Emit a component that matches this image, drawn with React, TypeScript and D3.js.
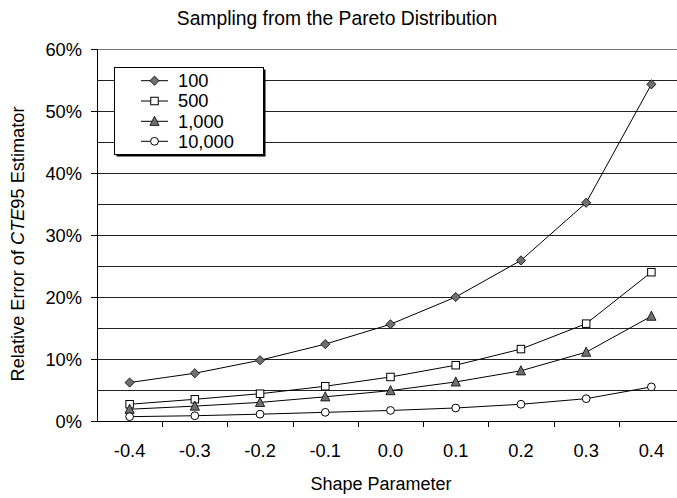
import React from "react";
import * as d3 from "d3";

// Shape parameter categories along the x axis
const categories = ["-0.4", "-0.3", "-0.2", "-0.1", "0.0", "0.1", "0.2", "0.3", "0.4"];

// Relative error (%) of the CTE95 estimator for each sample size
const n100 = [6.2, 7.7, 9.8, 12.4, 15.6, 20.0, 25.9, 35.2, 54.3];
const n500 = [2.7, 3.5, 4.4, 5.6, 7.1, 9.0, 11.6, 15.7, 24.0];
const n1000 = [1.9, 2.4, 3.0, 3.9, 4.9, 6.3, 8.1, 11.1, 16.9];
const n10000 = [0.7, 0.85, 1.1, 1.4, 1.7, 2.1, 2.7, 3.6, 5.5];

const seriesNames = ["100", "500", "1,000", "10,000"];
const yTicks = [0, 10, 20, 30, 40, 50, 60];
const gridValues = [5, 10, 15, 20, 25, 30, 35, 40, 45, 50, 55, 60];

type MarkerKind = "diamond" | "square" | "triangle" | "circle";
const markerKinds: MarkerKind[] = ["diamond", "square", "triangle", "circle"];
const seriesValues = [n100, n500, n1000, n10000];

const W = 677;
const H = 498;
const left = 97;
const right = 684;
const top = 49;
const bottom = 421;
const FONT = "Liberation Sans, Arial, Helvetica, sans-serif";
const GRAYFILL = "#6f6f6f";

function Marker({ kind, x, y }: { kind: MarkerKind; x: number; y: number }) {
  const stroke = "#000";
  if (kind === "diamond") {
    const r = 4.6;
    return (
      <path
        d={`M${x},${y - r}L${x + r},${y}L${x},${y + r}L${x - r},${y}Z`}
        fill={GRAYFILL}
        stroke={stroke}
        strokeWidth={0.8}
      />
    );
  }
  if (kind === "square") {
    const s = 7.5;
    return <rect x={x - s / 2} y={y - s / 2} width={s} height={s} fill="#fff" stroke={stroke} strokeWidth={1} />;
  }
  if (kind === "triangle") {
    const r = 4.6;
    return (
      <path
        d={`M${x},${y - r - 0.5}L${x + r},${y + r - 0.5}L${x - r},${y + r - 0.5}Z`}
        fill={GRAYFILL}
        stroke={stroke}
        strokeWidth={0.8}
      />
    );
  }
  return <circle cx={x} cy={y} r={3.9} fill="#fff" stroke={stroke} strokeWidth={1} />;
}

export default function App() {
  const x = d3.scaleBand<string>().domain(categories).range([left, right]);
  const y = d3.scaleLinear().domain([0, 60]).range([bottom, top]);
  const cx = (c: string) => (x(c) ?? 0) + x.bandwidth() / 2;

  const line = d3
    .line<number>()
    .x((_, i) => cx(categories[i]))
    .y((v) => y(v));

  const legendX = 114;
  const legendY = 67;
  const legendW = 149;
  const legendH = 87;
  const rowY = [80.7, 101, 121.3, 141.3];

  return (
    <svg
      width={W}
      height={H}
      style={{ position: "absolute", left: 0, top: 0, display: "block" }}
      fontFamily={FONT}
    >
      <rect x={0} y={0} width={W} height={H} fill="#fff" />

      {/* title */}
      <text x={337} y={25} textAnchor="middle" fontSize={19.3} fill="#000">
        Sampling from the Pareto Distribution
      </text>

      {/* horizontal gridlines every 5% */}
      {gridValues.map((g) => (
        <line
          key={g}
          x1={left}
          x2={right}
          y1={Math.round(y(g)) + 0.5}
          y2={Math.round(y(g)) + 0.5}
          stroke={g === 60 ? "#777" : "#222"}
          strokeWidth={1}
        />
      ))}

      {/* y axis */}
      <line x1={left + 0.5} x2={left + 0.5} y1={top} y2={bottom} stroke="#000" />
      {yTicks.map((t) => (
        <g key={t}>
          <line
            x1={left - 6}
            x2={left}
            y1={Math.round(y(t)) + 0.5}
            y2={Math.round(y(t)) + 0.5}
            stroke="#000"
          />
          <text x={82} y={y(t) + 6.5} textAnchor="end" fontSize={18.3} fill="#000">
            {t}%
          </text>
        </g>
      ))}

      {/* x axis */}
      <line x1={left} x2={right} y1={bottom + 0.5} y2={bottom + 0.5} stroke="#000" />
      {categories.map((c, i) =>
        i === 0 ? null : (
          <line
            key={"t" + c}
            x1={Math.round(x(c) ?? 0) + 0.5}
            x2={Math.round(x(c) ?? 0) + 0.5}
            y1={bottom}
            y2={bottom + 6}
            stroke="#000"
          />
        )
      )}
      {categories.map((c) => (
        <text key={"l" + c} x={cx(c)} y={457} textAnchor="middle" fontSize={18.3} fill="#000">
          {c}
        </text>
      ))}

      {/* axis titles */}
      <text x={381} y={490} textAnchor="middle" fontSize={18} fill="#000">
        Shape Parameter
      </text>
      <text
        transform={`translate(24,244) rotate(-90)`}
        textAnchor="middle"
        fontSize={18.2}
        fill="#000"
      >
        Relative Error of <tspan fontStyle="italic">CTE</tspan>95 Estimator
      </text>

      {/* series lines and markers */}
      {seriesValues.map((vals, si) => (
        <g key={si}>
          <path d={line(vals) ?? ""} fill="none" stroke="#000" strokeWidth={1} />
          {vals.map((v, i) => (
            <Marker key={i} kind={markerKinds[si]} x={cx(categories[i])} y={y(v)} />
          ))}
        </g>
      ))}

      {/* legend with drop shadow */}
      <rect x={legendX + 2.5} y={legendY + 2.5} width={legendW} height={legendH} fill="#000" />
      <rect x={legendX + 0.5} y={legendY + 0.5} width={legendW} height={legendH} fill="#fff" stroke="#000" />
      {seriesNames.map((name, i) => (
        <g key={name}>
          <line x1={141} x2={168} y1={rowY[i]} y2={rowY[i]} stroke="#000" />
          <Marker kind={markerKinds[i]} x={154.5} y={rowY[i]} />
          <text x={178} y={rowY[i] + 6.3} fontSize={18.3} fill="#000">
            {name}
          </text>
        </g>
      ))}
    </svg>
  );
}
